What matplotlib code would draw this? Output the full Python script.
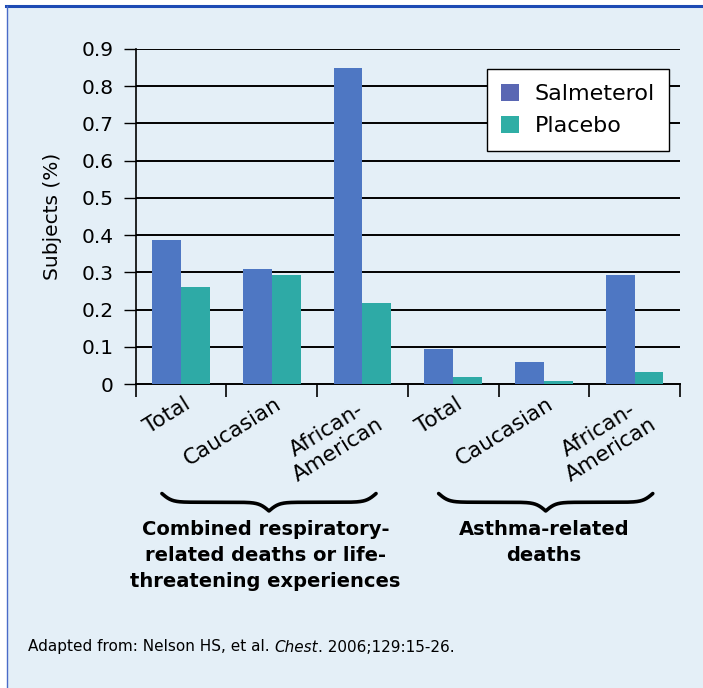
import numpy as np
import matplotlib
matplotlib.use("Agg")
import matplotlib.pyplot as plt
from matplotlib.patches import Patch, Rectangle
from matplotlib.lines import Line2D
from matplotlib.transforms import blended_transform_factory, ScaledTranslation

# Daten
groups = ["Total", "Caucasian", "African-\nAmerican",
          "Total", "Caucasian", "African-\nAmerican"]
salmeterol = [0.386, 0.310, 0.850, 0.095, 0.058, 0.294]
placebo = [0.261, 0.294, 0.218, 0.018, 0.009, 0.033]
series_names = ["Salmeterol", "Placebo"]
section_labels = ["Combined respiratory-\nrelated deaths or life-\nthreatening experiences",
                  "Asthma-related\ndeaths"]
yticks = [0, 0.1, 0.2, 0.3, 0.4, 0.5, 0.6, 0.7, 0.8, 0.9]
ytick_labels = ["0", "0.1", "0.2", "0.3", "0.4", "0.5", "0.6", "0.7", "0.8", "0.9"]

BG = "#E4EFF7"
C_SAL = "#4E77C3"
C_PLA = "#2EAAA6"

plt.rcParams['font.family'] = ['DejaVu Sans']

fig = plt.figure(figsize=(7.03, 6.88), dpi=100)
fig.patch.set_facecolor("white")

# Hintergrund mit Rahmen
fig.add_artist(Rectangle((7 / 703, 0), 1, 1 - 6 / 688, transform=fig.transFigure,
                         facecolor=BG, edgecolor="none", zorder=-10))
fig.add_artist(Line2D([6 / 703, 1], [1 - 5.5 / 688] * 2, transform=fig.transFigure,
                      color="#1E4BB4", lw=2.2))
fig.add_artist(Line2D([6.5 / 703] * 2, [0, 1 - 5.5 / 688], transform=fig.transFigure,
                      color="#4A6BC8", lw=1.0))

ax = fig.add_axes([135.6 / 703, 1 - 384 / 688, 544.4 / 703, 335 / 688])
ax.set_facecolor("none")

x = np.arange(len(groups)) + 0.5
w = 0.318
ax.bar(x - w / 2, salmeterol, w, color=C_SAL, zorder=3)
ax.bar(x + w / 2, placebo, w, color=C_PLA, zorder=3)

ax.set_xlim(0, 6)
ax.set_ylim(0, 0.9)
ax.set_yticks(yticks)
ax.set_yticklabels(ytick_labels, fontsize=14.5)
ax.tick_params(axis="y", direction="out", length=9, width=1, pad=7, color="black")
for yv in yticks[1:]:
    ax.axhline(yv, color="black", lw=1.4, zorder=1)

ax.set_xticks(np.arange(7))
ax.set_xticklabels([])
ax.tick_params(axis="x", direction="out", length=9, width=1.2, color="black")

for s in ["top", "right"]:
    ax.spines[s].set_visible(False)
ax.spines["left"].set_linewidth(1.2)
ax.spines["bottom"].set_linewidth(1.4)

# Kategorien schraeg
trans = blended_transform_factory(ax.transData, ax.transAxes)
off = ScaledTranslation(2 / 100, -10 / 100, fig.dpi_scale_trans)
for xi, lab in zip(x, groups):
    ax.text(xi, 0, lab, transform=trans + off, rotation=32, rotation_mode="anchor",
            ha="right", va="top", multialignment="center", fontsize=15.5,
            linespacing=1.2, clip_on=False)

ax.set_ylabel("Subjects (%)", fontsize=14.5)
ax.yaxis.set_label_coords(-0.135, 0.5)

# Legende
handles = [Patch(facecolor="#5A67B3", edgecolor="none"),
           Patch(facecolor="#2FAEA5", edgecolor="none")]
leg = ax.legend(handles, series_names, loc="upper left", bbox_to_anchor=(0.645, 0.94),
                borderaxespad=0, fontsize=16, frameon=True, fancybox=False,
                handlelength=0.8, handleheight=0.8, handletextpad=0.7,
                labelspacing=0.55, borderpad=0.65)
leg.get_frame().set_edgecolor("black")
leg.get_frame().set_linewidth(1.0)
leg.get_frame().set_alpha(1)
leg.set_zorder(5)


# geschweifte Klammern
def brace(cx, half, ytop, height, beta=18.0, n=301):
    xs = np.linspace(cx - half, cx + half, n)
    xh = xs[: n // 2 + 1]
    yh = (1 / (1 + np.exp(-beta * (xh - xh[0]))) +
          1 / (1 + np.exp(-beta * (xh - xh[-1]))))
    ys = np.concatenate((yh, yh[-2::-1]))
    ys = ytop - (ys - 0.5) * height
    ax.plot(xs, ys, color="black", lw=2.6, transform=trans, clip_on=False,
            solid_capstyle="round")


brace(1.47, 1.18, -0.327, 0.052)
brace(4.52, 1.18, -0.327, 0.052)

ax.text(1.43, -0.405, section_labels[0], transform=trans, ha="center", va="top",
        fontsize=14, fontweight="bold", linespacing=1.48)
ax.text(4.5, -0.405, section_labels[1], transform=trans, ha="center", va="top",
        fontsize=14, fontweight="bold", linespacing=1.48)

# Quelle
t1 = fig.text(28 / 703, 1 - 647 / 688, "Adapted from: Nelson HS, et al. ",
              fontsize=11, va="center", ha="left")
t2 = ax.annotate("Chest", xy=(1, 0), xycoords=t1, va="bottom", ha="left",
                 fontsize=11, style="italic")
ax.annotate(". 2006;129:15-26.", xy=(1, 0), xycoords=t2, va="bottom", ha="left",
            fontsize=11)

fig.savefig("out.png", dpi=100, facecolor=fig.get_facecolor())
